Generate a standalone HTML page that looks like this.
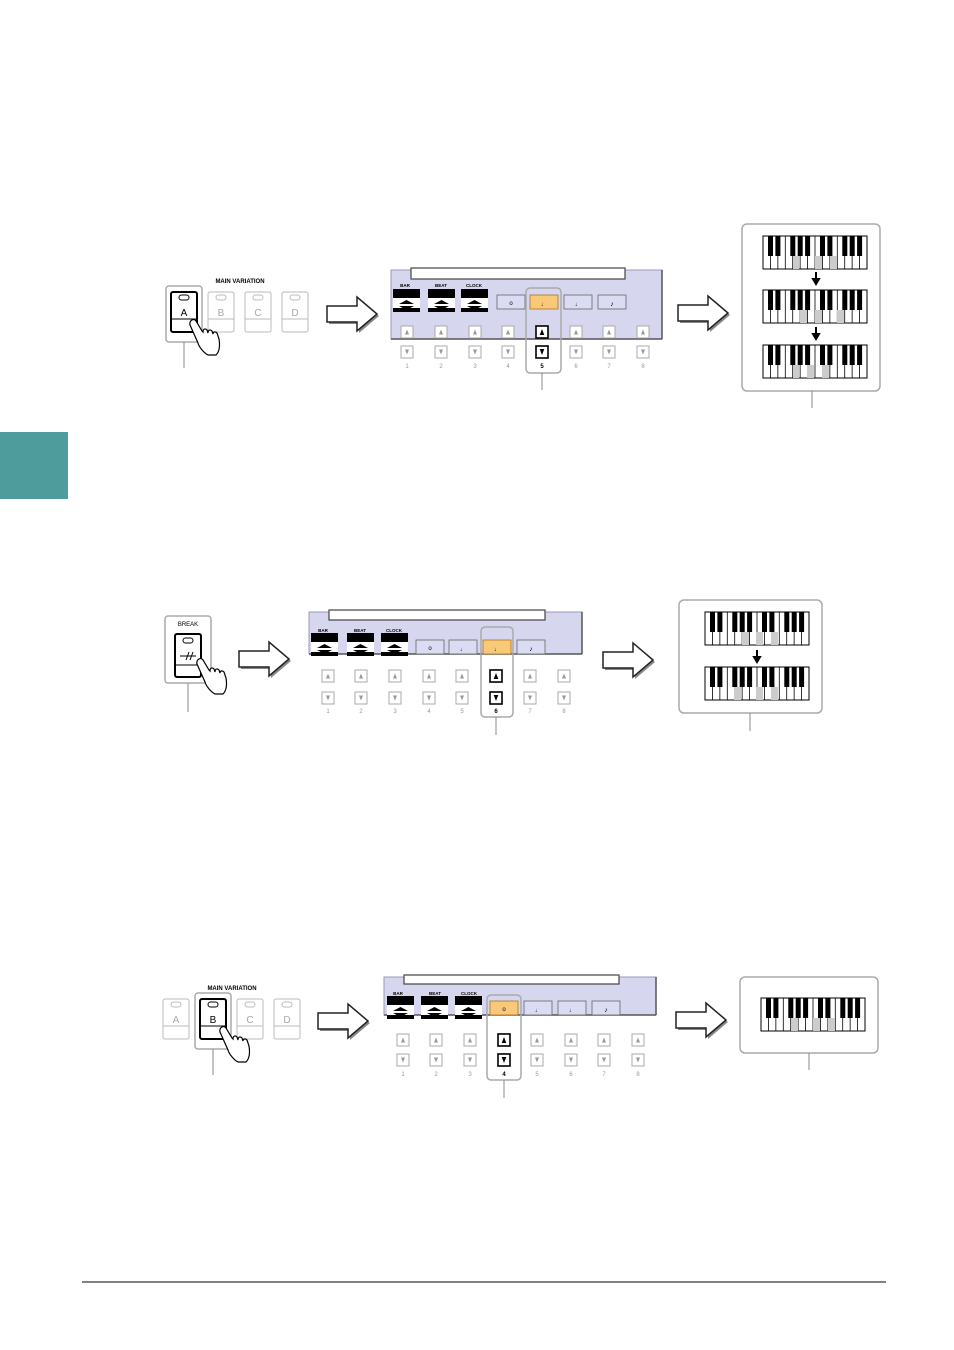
<!DOCTYPE html>
<html><head><meta charset="utf-8">
<style>
html,body{margin:0;padding:0;background:#fff;}
svg{display:block;}
text{font-family:"Liberation Sans",sans-serif;}
</style></head>
<body>
<svg width="954" height="1350" viewBox="0 0 954 1350" xmlns="http://www.w3.org/2000/svg">
<defs>
  <g id="kb">
    <rect x="0" y="0" width="104" height="33" fill="#fff" stroke="#000" stroke-width="1"/>
    <g stroke="#000" stroke-width="0.8">
      <line x1="7.43" y1="0" x2="7.43" y2="33"/><line x1="14.86" y1="0" x2="14.86" y2="33"/>
      <line x1="22.29" y1="0" x2="22.29" y2="33"/><line x1="29.71" y1="0" x2="29.71" y2="33"/>
      <line x1="37.14" y1="0" x2="37.14" y2="33"/><line x1="44.57" y1="0" x2="44.57" y2="33"/>
      <line x1="52" y1="0" x2="52" y2="33"/><line x1="59.43" y1="0" x2="59.43" y2="33"/>
      <line x1="66.86" y1="0" x2="66.86" y2="33"/><line x1="74.29" y1="0" x2="74.29" y2="33"/>
      <line x1="81.71" y1="0" x2="81.71" y2="33"/><line x1="89.14" y1="0" x2="89.14" y2="33"/>
      <line x1="96.57" y1="0" x2="96.57" y2="33"/>
    </g>
    <g fill="#000">
      <rect x="5" y="0" width="5" height="20"/><rect x="12.4" y="0" width="5" height="20"/>
      <rect x="27.3" y="0" width="5" height="20"/><rect x="34.7" y="0" width="5" height="20"/>
      <rect x="42.1" y="0" width="5" height="20"/>
      <rect x="57" y="0" width="5" height="20"/><rect x="64.4" y="0" width="5" height="20"/>
      <rect x="79.3" y="0" width="5" height="20"/><rect x="86.7" y="0" width="5" height="20"/>
      <rect x="94.1" y="0" width="5" height="20"/>
    </g>
  </g>
  <g id="arrow">
    <path d="M2 11 H32 V2 L52 19 L32 36 V27 H2 Z" fill="#888"/>
    <path d="M0 9 H30 V0 L50 17 L30 34 V25 H0 Z" fill="#fff" stroke="#222" stroke-width="1.5"/>
  </g>
  <g id="up">
    <rect x="0" y="0" width="12" height="12" fill="#fff" stroke="#aaa" stroke-width="1"/>
    <path d="M6 3.5 L8 8.5 H4 Z" fill="#999"/>
  </g>
  <g id="dn">
    <rect x="0" y="0" width="12" height="12" fill="#fff" stroke="#aaa" stroke-width="1"/>
    <path d="M6 8.5 L8 3.5 H4 Z" fill="#999"/>
  </g>
  <g id="upS">
    <rect x="0" y="0" width="12" height="12" fill="#fff" stroke="#000" stroke-width="1.6"/>
    <path d="M6 3 L8.3 9 H3.7 Z" fill="#000"/>
  </g>
  <g id="dnS">
    <rect x="0" y="0" width="12" height="12" fill="#fff" stroke="#000" stroke-width="1.6"/>
    <path d="M6 9 L8.3 3 H3.7 Z" fill="#000"/>
  </g>
  <g id="vbtn">
    <rect x="0" y="0" width="26" height="40" rx="2" fill="#fff" stroke="#bbb" stroke-width="1"/>
    <line x1="0" y1="27" x2="26" y2="27" stroke="#bbb"/>
    <rect x="8" y="3" width="10" height="5" rx="2.5" fill="#fff" stroke="#bbb"/>
  </g>
  <g id="vbtnS">
    <rect x="0" y="0" width="26" height="40" rx="2" fill="#fff" stroke="#000" stroke-width="2"/>
    <line x1="0" y1="27" x2="26" y2="27" stroke="#000"/>
    <rect x="8" y="3" width="10" height="5" rx="2.5" fill="#fff" stroke="#000"/>
  </g>
  <g id="hand">
    <path d="M0 0 L8 18 C9 22 14 28 18 30 L26 30 C30 26 30 20 29 14 L27 8 C25 6 23 7 23 9 L22 6 C20 4 18 5 18 8 L17 5 C15 3 13 4 13 7 L12 6 L6 -4 C4 -7 -1 -5 0 0 Z" fill="#fff" stroke="#000" stroke-width="1.2"/>
  </g>
  <g id="bbcb">
    <rect x="0" y="0" width="27" height="23" fill="#fff"/>
    <rect x="0" y="0" width="27" height="9" fill="#000"/>
    <rect x="0" y="19" width="27" height="4" fill="#000"/>
    <path d="M6 15 L13.5 11 L21 15 Z" fill="#000"/>
    <path d="M6 17 L13.5 21 L21 17 Z" fill="#000"/>
  </g>
  <g id="tab">
    <rect x="0" y="0" width="28" height="14" fill="#d9dcf2" stroke="#666" stroke-width="0.8"/>
  </g>
  <g id="tabS">
    <rect x="0" y="0" width="28" height="14" fill="#f8c978" stroke="#b07020" stroke-width="0.8"/>
  </g>
</defs>

<!-- sidebar -->
<rect x="0" y="432" width="68" height="67" fill="#4f9c9c"/>
<!-- footer line -->
<line x1="82" y1="1282" x2="886" y2="1282" stroke="#000" stroke-width="1"/>

<!-- ========== DIAGRAM 1 ========== -->
<text x="240" y="283" font-size="6" font-weight="bold" text-anchor="middle">MAIN VARIATION</text>
<rect x="166" y="286" width="36" height="56" rx="3" fill="#fff" stroke="#aaa" stroke-width="1.5"/>
<use href="#vbtnS" x="171" y="292"/>
<text x="184" y="316" font-size="10" text-anchor="middle">A</text>
<use href="#vbtn" x="208" y="292"/><text x="221" y="316" font-size="10" text-anchor="middle" fill="#aaa">B</text>
<use href="#vbtn" x="245" y="292"/><text x="258" y="316" font-size="10" text-anchor="middle" fill="#aaa">C</text>
<use href="#vbtn" x="282" y="292"/><text x="295" y="316" font-size="10" text-anchor="middle" fill="#aaa">D</text>
<use href="#hand" x="190" y="325"/>
<line x1="184" y1="342" x2="184" y2="368" stroke="#888"/>
<use href="#arrow" x="327" y="297"/>

<rect x="391" y="270" width="271" height="69" fill="#d6d7ee" stroke="#9a9ab8"/>
<line x1="662" y1="270" x2="662" y2="339" stroke="#555" stroke-width="1.5"/>
<line x1="391" y1="339" x2="662" y2="339" stroke="#555" stroke-width="1.5"/>
<rect x="411" y="268" width="214" height="11" fill="#fff" stroke="#444" stroke-width="1.2"/>
<text x="405" y="287" font-size="4.5" font-family="Liberation Serif" font-weight="bold" text-anchor="middle">BAR</text>
<text x="441" y="287" font-size="4.5" font-family="Liberation Serif" font-weight="bold" text-anchor="middle">BEAT</text>
<text x="474" y="287" font-size="4.5" font-family="Liberation Serif" font-weight="bold" text-anchor="middle">CLOCK</text>
<use href="#bbcb" x="393" y="289"/><use href="#bbcb" x="428" y="289"/><use href="#bbcb" x="461" y="289"/>
<use href="#tab" x="497" y="295"/><use href="#tabS" x="530" y="295"/><use href="#tab" x="564" y="295"/><use href="#tab" x="598" y="295"/>
<text x="511" y="305" font-size="6" text-anchor="middle">o</text>
<text x="544" y="306" font-size="6" text-anchor="middle">♩</text>
<text x="578" y="306" font-size="6" text-anchor="middle">♩</text>
<text x="612" y="306" font-size="7" text-anchor="middle">♪</text>
<rect x="526" y="288" width="35" height="85" rx="4" fill="none" stroke="#aaa" stroke-width="1.5"/>
<g>
<use href="#up" x="401" y="326"/><use href="#dn" x="401" y="346"/>
<use href="#up" x="435" y="326"/><use href="#dn" x="435" y="346"/>
<use href="#up" x="469" y="326"/><use href="#dn" x="469" y="346"/>
<use href="#up" x="502" y="326"/><use href="#dn" x="502" y="346"/>
<use href="#upS" x="536" y="326"/><use href="#dnS" x="536" y="346"/>
<use href="#up" x="570" y="326"/><use href="#dn" x="570" y="346"/>
<use href="#up" x="603" y="326"/><use href="#dn" x="603" y="346"/>
<use href="#up" x="637" y="326"/><use href="#dn" x="637" y="346"/>
</g>
<g font-size="6" fill="#999" text-anchor="middle">
<text x="407" y="368">1</text><text x="441" y="368">2</text><text x="475" y="368">3</text><text x="508" y="368">4</text>
<text x="542" y="368" fill="#000" font-weight="bold">5</text><text x="576" y="368">6</text><text x="609" y="368">7</text><text x="643" y="368">8</text>
</g>
<line x1="542" y1="373" x2="542" y2="390" stroke="#888"/>
<use href="#arrow" x="678" y="296"/>

<rect x="742" y="224" width="138" height="167" rx="5" fill="#fff" stroke="#aaa" stroke-width="1.5"/>
<use href="#kb" x="763" y="236"/>
<rect x="793" y="256" width="6" height="13" fill="#ccc"/><rect x="815" y="256" width="7" height="13" fill="#ccc"/><rect x="830" y="256" width="7" height="13" fill="#ccc"/>
<use href="#kb" x="763" y="290"/>
<rect x="800" y="310" width="7" height="13" fill="#ccc"/><rect x="815" y="310" width="7" height="13" fill="#ccc"/><rect x="837" y="310" width="7" height="13" fill="#ccc"/>
<use href="#kb" x="763" y="345"/>
<rect x="793" y="365" width="6" height="13" fill="#ccc"/><rect x="807" y="365" width="7" height="13" fill="#ccc"/><rect x="822" y="365" width="7" height="13" fill="#ccc"/>
<path d="M816 272 V280 M813 279 L816 284 L819 279 Z" stroke="#000" stroke-width="2" fill="#000"/>
<path d="M816 327 V335 M813 334 L816 339 L819 334 Z" stroke="#000" stroke-width="2" fill="#000"/>
<line x1="812" y1="391" x2="812" y2="408" stroke="#888"/>

<!-- ========== DIAGRAM 2 ========== -->
<rect x="165" y="616" width="46" height="67" rx="3" fill="#fff" stroke="#aaa" stroke-width="1.5"/>
<text x="188" y="626" font-size="6" text-anchor="middle">BREAK</text>
<rect x="175" y="634" width="26" height="43" rx="2" fill="#fff" stroke="#000" stroke-width="2"/>
<rect x="183" y="638" width="10" height="5" rx="2.5" fill="#fff" stroke="#000"/>
<line x1="175" y1="665" x2="201" y2="665" stroke="#000"/>
<line x1="180" y1="656" x2="196" y2="656" stroke="#000"/>
<path d="M186 660 L189 652 M190 660 L193 652" stroke="#000"/>
<use href="#hand" x="197" y="664"/>
<line x1="188" y1="683" x2="188" y2="712" stroke="#888"/>
<use href="#arrow" x="239" y="642"/>

<rect x="309" y="612" width="273" height="42" fill="#d6d7ee" stroke="#9a9ab8"/>
<line x1="582" y1="612" x2="582" y2="654" stroke="#555" stroke-width="1.5"/>
<line x1="309" y1="654" x2="582" y2="654" stroke="#555" stroke-width="1.5"/>
<rect x="329" y="610" width="216" height="10" fill="#fff" stroke="#444" stroke-width="1.2"/>
<text x="323" y="632" font-size="4.5" font-family="Liberation Serif" font-weight="bold" text-anchor="middle">BAR</text>
<text x="360" y="632" font-size="4.5" font-family="Liberation Serif" font-weight="bold" text-anchor="middle">BEAT</text>
<text x="394" y="632" font-size="4.5" font-family="Liberation Serif" font-weight="bold" text-anchor="middle">CLOCK</text>
<use href="#bbcb" x="311" y="633" transform="translate(0,0)"/><use href="#bbcb" x="347" y="633"/><use href="#bbcb" x="381" y="633"/>
<use href="#tab" x="416" y="640"/><use href="#tab" x="449" y="640"/><use href="#tabS" x="483" y="640"/><use href="#tab" x="517" y="640"/>
<text x="430" y="650" font-size="6" text-anchor="middle">o</text>
<text x="463" y="651" font-size="6" text-anchor="middle">♩</text>
<text x="497" y="651" font-size="6" text-anchor="middle">♩</text>
<text x="531" y="651" font-size="7" text-anchor="middle">♪</text>
<rect x="481" y="627" width="32" height="90" rx="4" fill="none" stroke="#aaa" stroke-width="1.5"/>
<use href="#up" x="322" y="670"/><use href="#dn" x="322" y="692"/>
<use href="#up" x="355" y="670"/><use href="#dn" x="355" y="692"/>
<use href="#up" x="389" y="670"/><use href="#dn" x="389" y="692"/>
<use href="#up" x="423" y="670"/><use href="#dn" x="423" y="692"/>
<use href="#up" x="456" y="670"/><use href="#dn" x="456" y="692"/>
<use href="#upS" x="490" y="670"/><use href="#dnS" x="490" y="692"/>
<use href="#up" x="524" y="670"/><use href="#dn" x="524" y="692"/>
<use href="#up" x="558" y="670"/><use href="#dn" x="558" y="692"/>
<g font-size="6" fill="#999" text-anchor="middle">
<text x="328" y="713">1</text><text x="361" y="713">2</text><text x="395" y="713">3</text><text x="429" y="713">4</text>
<text x="462" y="713">5</text><text x="496" y="713" fill="#000" font-weight="bold">6</text><text x="530" y="713">7</text><text x="564" y="713">8</text>
</g>
<line x1="496" y1="717" x2="496" y2="735" stroke="#888"/>
<use href="#arrow" x="603" y="643"/>

<rect x="679" y="600" width="143" height="113" rx="5" fill="#fff" stroke="#aaa" stroke-width="1.5"/>
<use href="#kb" x="705" y="612"/>
<rect x="742" y="632" width="7" height="13" fill="#ccc"/><rect x="756" y="632" width="7" height="13" fill="#ccc"/><rect x="771" y="632" width="7" height="13" fill="#ccc"/>
<use href="#kb" x="705" y="667"/>
<rect x="734" y="687" width="7" height="13" fill="#ccc"/><rect x="756" y="687" width="7" height="13" fill="#ccc"/><rect x="771" y="687" width="7" height="13" fill="#ccc"/>
<path d="M757 650 V658 M754 657 L757 662 L760 657 Z" stroke="#000" stroke-width="2" fill="#000"/>
<line x1="750" y1="713" x2="750" y2="731" stroke="#888"/>

<!-- ========== DIAGRAM 3 ========== -->
<text x="232" y="990" font-size="6" font-weight="bold" text-anchor="middle">MAIN VARIATION</text>
<use href="#vbtn" x="163" y="999"/><text x="176" y="1023" font-size="10" text-anchor="middle" fill="#aaa">A</text>
<rect x="195" y="993" width="36" height="56" rx="3" fill="#fff" stroke="#aaa" stroke-width="1.5"/>
<use href="#vbtnS" x="200" y="999"/><text x="213" y="1023" font-size="10" text-anchor="middle">B</text>
<use href="#vbtn" x="237" y="999"/><text x="250" y="1023" font-size="10" text-anchor="middle" fill="#aaa">C</text>
<use href="#vbtn" x="274" y="999"/><text x="287" y="1023" font-size="10" text-anchor="middle" fill="#aaa">D</text>
<use href="#hand" x="220" y="1032"/>
<line x1="213" y1="1049" x2="213" y2="1075" stroke="#888"/>
<use href="#arrow" x="318" y="1004"/>

<rect x="384" y="977" width="272" height="38" fill="#d6d7ee" stroke="#9a9ab8"/>
<line x1="656" y1="977" x2="656" y2="1015" stroke="#555" stroke-width="1.5"/>
<line x1="384" y1="1015" x2="656" y2="1015" stroke="#555" stroke-width="1.5"/>
<rect x="404" y="975" width="215" height="9" fill="#fff" stroke="#444" stroke-width="1.2"/>
<text x="398" y="995" font-size="4.5" font-family="Liberation Serif" font-weight="bold" text-anchor="middle">BAR</text>
<text x="435" y="995" font-size="4.5" font-family="Liberation Serif" font-weight="bold" text-anchor="middle">BEAT</text>
<text x="469" y="995" font-size="4.5" font-family="Liberation Serif" font-weight="bold" text-anchor="middle">CLOCK</text>
<use href="#bbcb" x="387" y="996"/><use href="#bbcb" x="421" y="996"/><use href="#bbcb" x="455" y="996"/>
<use href="#tabS" x="490" y="1001"/><use href="#tab" x="524" y="1001"/><use href="#tab" x="558" y="1001"/><use href="#tab" x="592" y="1001"/>
<text x="504" y="1011" font-size="6" text-anchor="middle">o</text>
<text x="538" y="1012" font-size="6" text-anchor="middle">♩</text>
<text x="572" y="1012" font-size="6" text-anchor="middle">♩</text>
<text x="606" y="1012" font-size="7" text-anchor="middle">♪</text>
<rect x="487" y="995" width="34" height="85" rx="4" fill="none" stroke="#aaa" stroke-width="1.5"/>
<use href="#up" x="397" y="1034"/><use href="#dn" x="397" y="1054"/>
<use href="#up" x="430" y="1034"/><use href="#dn" x="430" y="1054"/>
<use href="#up" x="464" y="1034"/><use href="#dn" x="464" y="1054"/>
<use href="#upS" x="498" y="1034"/><use href="#dnS" x="498" y="1054"/>
<use href="#up" x="531" y="1034"/><use href="#dn" x="531" y="1054"/>
<use href="#up" x="565" y="1034"/><use href="#dn" x="565" y="1054"/>
<use href="#up" x="598" y="1034"/><use href="#dn" x="598" y="1054"/>
<use href="#up" x="632" y="1034"/><use href="#dn" x="632" y="1054"/>
<g font-size="6" fill="#999" text-anchor="middle">
<text x="403" y="1076">1</text><text x="436" y="1076">2</text><text x="470" y="1076">3</text>
<text x="504" y="1076" fill="#000" font-weight="bold">4</text><text x="537" y="1076">5</text><text x="571" y="1076">6</text><text x="604" y="1076">7</text><text x="638" y="1076">8</text>
</g>
<line x1="504" y1="1080" x2="504" y2="1098" stroke="#888"/>
<use href="#arrow" x="676" y="1003"/>

<rect x="740" y="977" width="138" height="76" rx="5" fill="#fff" stroke="#aaa" stroke-width="1.5"/>
<use href="#kb" x="761" y="998"/>
<rect x="791" y="1018" width="7" height="13" fill="#ccc"/><rect x="813" y="1018" width="7" height="13" fill="#ccc"/><rect x="828" y="1018" width="7" height="13" fill="#ccc"/>
<line x1="809" y1="1053" x2="809" y2="1070" stroke="#888"/>
</svg>
</body></html>
